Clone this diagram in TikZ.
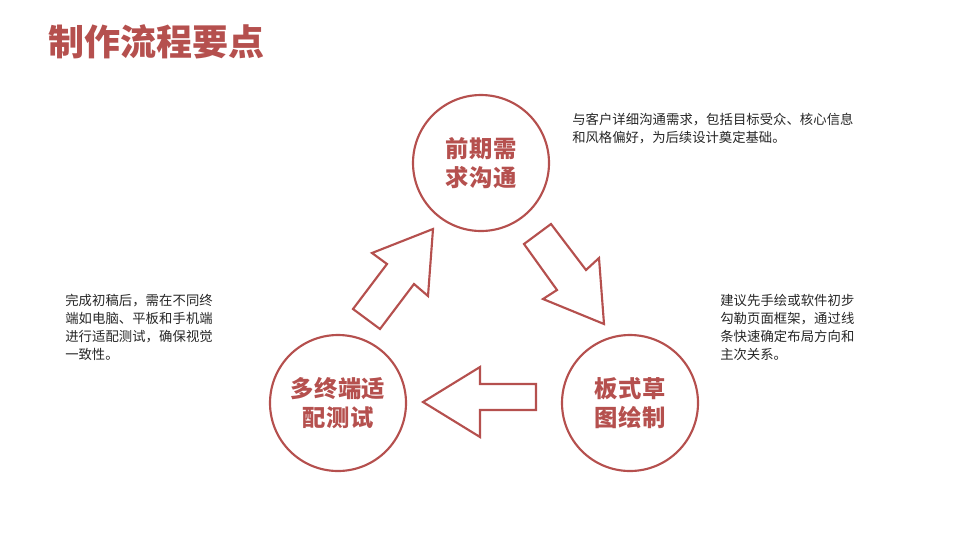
\documentclass[tikz,border=0pt]{standalone}
\usepackage{fontspec}
\setmainfont{Noto Sans CJK SC}
\XeTeXlinebreaklocale "zh"
\XeTeXlinebreakskip=0pt plus 1pt
\usetikzlibrary{positioning}
\definecolor{brick}{HTML}{B5504E}
\tikzset{
    step circle/.style={shape=circle,draw=brick,line width=1.6pt,minimum size=102pt,inner sep=0pt,
        text width=92pt,align=center,font=\fontsize{17.5pt}{22pt}\selectfont\bfseries,text=brick},
    hollow arrow/.style={draw=brick,line width=1.6pt,line join=miter},
    note/.style={anchor=north west,inner sep=0pt,text width=#1,align=left,
        font=\fontsize{10pt}{13.5pt}\selectfont,text=black!85}
}
\begin{document}
\begin{tikzpicture}[x=0.75pt,y=-0.75pt]
    \useasboundingbox (0,0) rectangle (960,540);
    \node[anchor=west,inner sep=0pt,text=brick,font=\fontsize{27pt}{32pt}\selectfont\bfseries] (title) at (48,42) {制作流程要点};
    \node(plan)[step circle] at (481,163) {前期需求沟通};
    \node(sketch)[step circle] at (630,403) {板式草图绘制};
    \node(test)[step circle] at (338,403) {多终端适配测试};
    % hollow block arrows between the steps
    \draw[hollow arrow] (353,309) -- (380,329) -- (414,284) -- (428,296) -- (433,229) -- (372,253) -- (387,264) -- cycle;
    \draw[hollow arrow] (551,224) -- (524,244) -- (557,290) -- (543,299) -- (604,324) -- (599,258) -- (586,270) -- cycle;
    \draw[hollow arrow] (536,384) -- (536,410) -- (480,410) -- (480,437) -- (423,402) -- (480,367) -- (480,384) -- cycle;
    \node(plan note)[note=212pt] at (572,113) {与客户详细沟通需求，包括目标受众、核心信息和风格偏好，为后续设计奠定基础。};
    \node(sketch note)[note=102pt] at (720,294) {建议先手绘或软件初步勾勒页面框架，通过线条快速确定布局方向和主次关系。};
    \node(test note)[note=112pt] at (65,294) {完成初稿后，需在不同终端如电脑、平板和手机端进行适配测试，确保视觉一致性。};
\end{tikzpicture}
\end{document}
